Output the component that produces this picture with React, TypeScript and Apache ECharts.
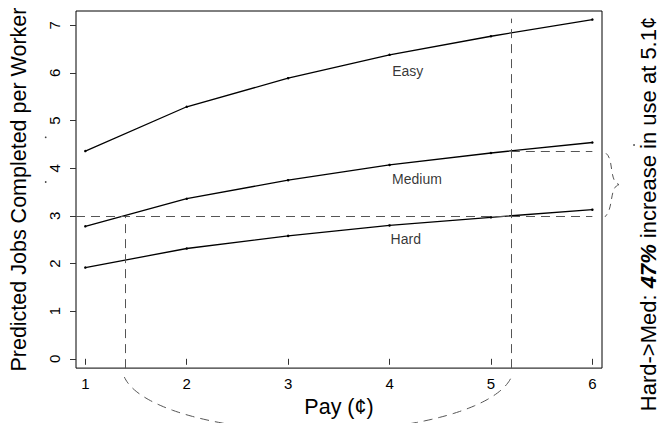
import React, { useEffect, useRef } from "react";
import * as echarts from "echarts";

// ---- data ----
const pay = [1, 2, 3, 4, 5, 6];
const easy = [4.36, 5.29, 5.89, 6.38, 6.77, 7.12];
const medium = [2.78, 3.36, 3.75, 4.07, 4.32, 4.54];
const hard = [1.915, 2.315, 2.58, 2.8, 2.97, 3.13];
const xTicks = [1, 2, 3, 4, 5, 6];
const yTicks = [0, 1, 2, 3, 4, 5, 6, 7];

const lineNames = ["Easy", "Medium", "Hard"];
const lineLabelX = [4.18, 4.27, 4.16];
const lineLabelY = [6.04, 3.77, 2.51];

// annotation values
const hardTarget = 3; // jobs level
const mediumCross = 1.39; // pay where Medium reaches 3
const hardCross = 5.196; // pay where Hard reaches 3
const mediumAtHardCross = 4.355; // Medium level at that pay
const verticalTop = 7.14;

const FONT = "Liberation Sans, Arial, Helvetica, sans-serif";
const DASH_COLOR = "#555";

export default function App() {
  const ref = useRef<HTMLDivElement>(null);

  useEffect(() => {
    document.body.style.margin = "0";
    const chart = echarts.init(ref.current!, null, { renderer: "svg" });
    const xMin = 0.908;
    const xMax = 6.095;
    const yMin = -0.195;
    const yMax = 7.3;

    const mkSeries = (name: string, vals: number[]) => ({
      name,
      type: "line",
      data: pay.map((p, i) => [p, vals[i]]),
      symbol: "circle",
      symbolSize: 2.5,
      itemStyle: { color: "#000" },
      lineStyle: { color: "#000", width: 1.3 },
      silent: true,
    });

    chart.setOption({
      animation: false,
      backgroundColor: "#fff",
      grid: {
        left: 74,
        top: 11,
        width: 528,
        height: 363,
        show: true,
        borderColor: "#000",
        borderWidth: 1,
        backgroundColor: "transparent",
      },
      xAxis: {
        type: "value",
        min: xMin,
        max: xMax,
        name: "Pay (¢)",
        nameLocation: "middle",
        nameGap: 25,
        nameTextStyle: { fontSize: 21.5, color: "#000", fontFamily: FONT },
        axisLine: { show: false },
        splitLine: { show: false },
        axisTick: {
          show: true,
          customValues: xTicks,
          length: 6,
          lineStyle: { color: "#333" },
        },
        axisLabel: {
          customValues: xTicks,
          fontSize: 15,
          color: "#000",
          fontFamily: FONT,
          margin: 8,
        },
      },
      yAxis: {
        type: "value",
        min: yMin,
        max: yMax,
        name: "Predicted Jobs Completed per Worker",
        nameLocation: "middle",
        nameRotate: 90,
        nameGap: 46,
        nameMoveOverlap: false,
        nameTextStyle: { fontSize: 21.5, color: "#000", fontFamily: FONT },
        axisLine: { show: false },
        splitLine: { show: false },
        axisTick: {
          show: true,
          customValues: yTicks,
          length: 6,
          lineStyle: { color: "#333" },
        },
        axisLabel: { show: false },
      },
      series: [
        {
          ...mkSeries("Easy", easy),
          markLine: {
            silent: true,
            symbol: "none",
            label: { show: false },
            lineStyle: { color: DASH_COLOR, width: 1, type: [9, 6] },
            data: [
              [{ coord: [xMin, hardTarget] }, { coord: [6, hardTarget] }],
              [{ coord: [mediumCross, yMin] }, { coord: [mediumCross, hardTarget] }],
              [{ coord: [hardCross, yMin] }, { coord: [hardCross, verticalTop] }],
              [
                { coord: [hardCross, mediumAtHardCross] },
                { coord: [6, mediumAtHardCross] },
              ],
            ],
          },
        },
        mkSeries("Medium", medium),
        mkSeries("Hard", hard),
        {
          type: "scatter",
          silent: true,
          symbolSize: 0,
          data: lineNames.map((n, i) => ({ name: n, value: [lineLabelX[i], lineLabelY[i]] })),
          label: {
            show: true,
            position: "inside",
            formatter: "{b}",
            fontSize: 14,
            color: "#000",
            fontFamily: FONT,
          },
        },
      ],
    });

    const pL = chart.convertToPixel({ gridIndex: 0 }, [mediumCross, hardTarget]) as number[];
    const pR = chart.convertToPixel({ gridIndex: 0 }, [hardCross, mediumAtHardCross]) as number[];
    const pBot = chart.convertToPixel({ gridIndex: 0 }, [6, yMin]) as number[];

    // rotated y tick labels (R style, parallel to the axis)
    const yLabelEls = yTicks.map((v) => {
      const p = chart.convertToPixel({ gridIndex: 0 }, [1, v]) as number[];
      return {
        type: "text",
        silent: true,
        x: 54,
        y: p[1],
        rotation: Math.PI / 2,
        style: {
          text: String(v),
          align: "center",
          verticalAlign: "middle",
          fill: "#000",
          fontSize: 15,
          fontFamily: FONT,
        },
      };
    });

    // elliptical dashed arc below the x axis linking the two crossings
    const cx = (pL[0] + pR[0]) / 2;
    const a = (pR[0] - pL[0]) / 2 + 2.5;
    const cy = pBot[1];
    const b = 63;
    const arcPts: number[][] = [];
    for (let k = 0; k <= 120; k++) {
      const t = 0.17 + ((Math.PI - 0.143 - 0.17) * k) / 120;
      arcPts.push([cx + a * Math.cos(t), cy + b * Math.sin(t)]);
    }

    const yTop = pR[1];
    const yBot = pL[1];
    const yMid = (yTop + yBot) / 2 + 1;
    const braceStyle = { stroke: DASH_COLOR, lineWidth: 1, lineDash: [6, 5], fill: null };

    chart.setOption({
      graphic: [
        ...yLabelEls,
        { type: "polyline", silent: true, shape: { points: arcPts }, style: { ...braceStyle, lineDash: [9, 6] } },
        {
          type: "bezierCurve",
          silent: true,
          shape: { x1: 606, y1: yTop + 2, cpx1: 614, cpy1: yTop + 8, cpx2: 609, cpy2: yMid - 3, x2: 619, y2: yMid },
          style: braceStyle,
        },
        {
          type: "bezierCurve",
          silent: true,
          shape: { x1: 619, y1: yMid, cpx1: 609, cpy1: yMid + 3, cpx2: 614, cpy2: yBot - 8, x2: 605, y2: yBot + 1 },
          style: braceStyle,
        },
        { type: "circle", silent: true, shape: { cx: 45.7, cy: 137.3, r: 0.8 }, style: { fill: "#333" } },
        { type: "circle", silent: true, shape: { cx: 45.7, cy: 182, r: 0.8 }, style: { fill: "#333" } },
        { type: "circle", silent: true, shape: { cx: 634, cy: 145, r: 0.8 }, style: { fill: "#333" } },
        {
          type: "text",
          silent: true,
          x: 648,
          y: 214,
          rotation: Math.PI / 2,
          style: {
            text: "{n|Hard->Med: }{b|47%}{n| increase in use at 5.1¢}",
            align: "center",
            verticalAlign: "middle",
            fill: "#000",
            rich: {
              n: { fontSize: 22, fontFamily: FONT, fill: "#000" },
              b: { fontSize: 22, fontFamily: FONT, fontWeight: "bold", fontStyle: "italic", fill: "#000" },
            },
          },
        },
      ],
    });

    return () => chart.dispose();
  }, []);

  return (
    <div
      ref={ref}
      style={{ position: "fixed", left: 0, top: 0, width: 664, height: 423 }}
    />
  );
}
